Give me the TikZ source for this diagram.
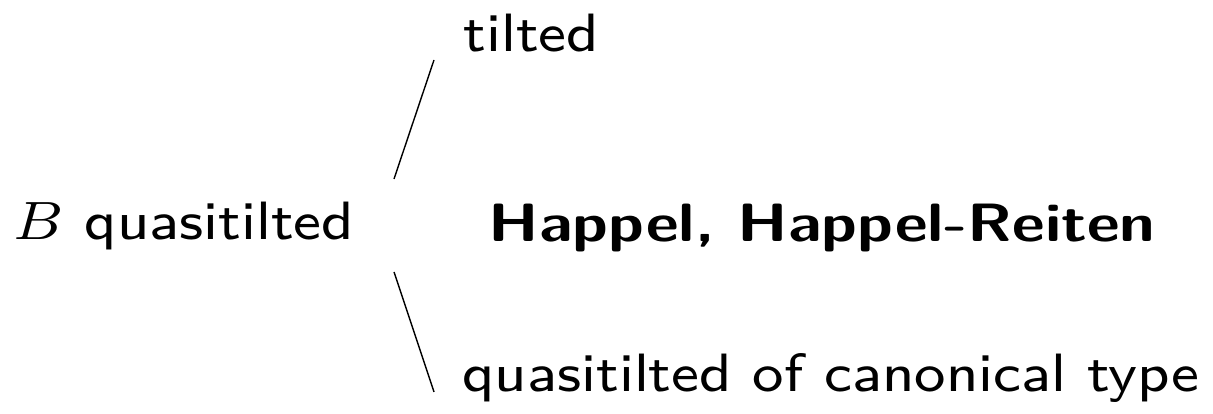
\documentclass[tikz,border=0pt]{standalone}
\usepackage{tikz}
\usetikzlibrary{positioning}

\begin{document}
\begin{tikzpicture}[every node/.style={font=\fontsize{8}{10}\selectfont\sffamily, scale=1.92, xscale=1.094, inner sep=0pt, anchor=base west}]
  \useasboundingbox (0,0) rectangle (12.13,4.14);
  \node (root) at (0.12,1.74) {$B$ quasitilted};
  \node (tilted) at (4.62,3.62) {tilted};
  \node[font=\fontsize{8}{10}\selectfont\sffamily\bfseries, xscale=1.079] (authors) at (4.87,1.72) {Happel, Happel-Reiten};
  \node (canon) at (4.61,0.22) {quasitilted of canonical type};
  % the two branches
  \coordinate (upfoot) at (3.94,2.35);
  \coordinate (uptip) at (4.34,3.54);
  \coordinate (lowfoot) at (3.94,1.42);
  \coordinate (lowtip) at (4.34,0.22);
  \draw (upfoot) -- (uptip);
  \draw (lowfoot) -- (lowtip);
\end{tikzpicture}
\end{document}
